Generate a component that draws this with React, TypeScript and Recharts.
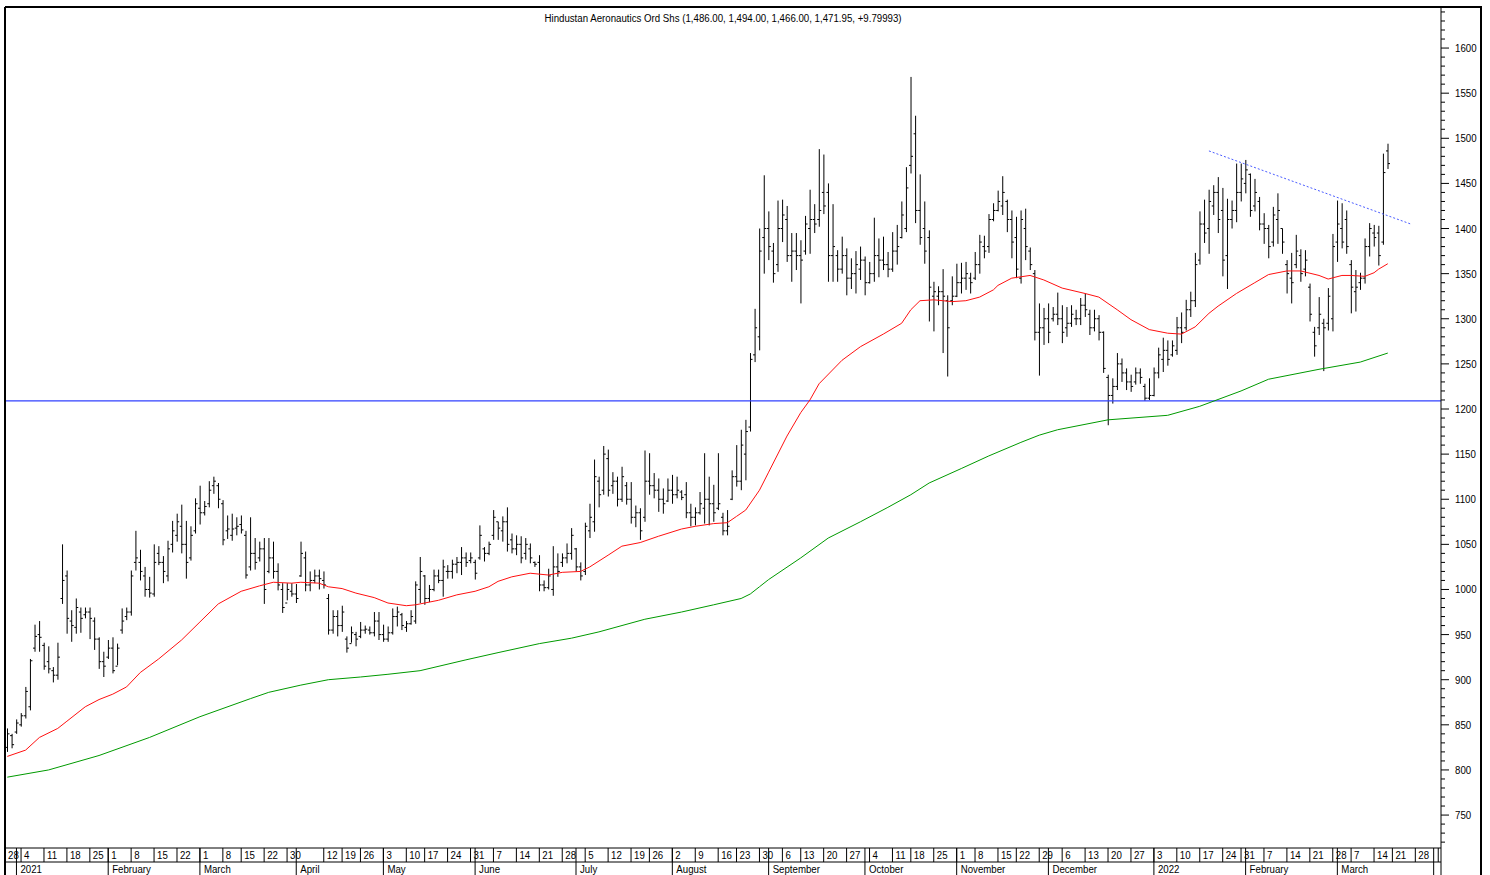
import { ComposedChart, Bar, Line, XAxis, YAxis, ReferenceLine } from "recharts";

// ---- data -----------------------------------------------------------------

const TITLE = "Hindustan Aeronautics Ord Shs (1,486.00, 1,494.00, 1,466.00, 1,471.95, +9.79993)";

// NSE weekday holidays in the displayed range (no bar on these days)
const HOLIDAYS = [
  "2021-01-26", "2021-03-11", "2021-03-29", "2021-04-02", "2021-04-14", "2021-04-21",
  "2021-05-13", "2021-07-21", "2021-08-19", "2021-09-10", "2021-10-15", "2021-11-05",
  "2021-11-19", "2022-01-26", "2022-03-01", "2022-03-18", "2022-04-14", "2022-04-15",
];
const CAL_START = "2020-12-28";
const FIRST_BAR = "2020-12-30";
const CAL_END = "2022-04-08";

const MONTH_NAMES = [
  "", "February", "March", "April", "May", "June", "July",
  "August", "September", "October", "November", "December",
];

// daily bars [open, high, low, close], one per trading day from 30 Dec 2020
const BARS: number[][] = [
  // Dec 2020 - Jan 2021
  [825, 846, 820, 840], [838, 840, 824, 828], [842, 856, 840, 852], [850, 863, 848, 860],
  [860, 892, 857, 887], [870, 923, 866, 921], [935, 961, 931, 948], [950, 965, 931, 947],
  [938, 941, 911, 915], [920, 937, 907, 912], [910, 914, 897, 905], [905, 941, 900, 925],
  [990, 1050, 984, 1010], [1015, 1021, 951, 968], [965, 977, 942, 960], [958, 990, 951, 980],
  [975, 980, 952, 968], [972, 980, 968, 975], [975, 980, 945, 968], [965, 969, 933, 945],
  [945, 947, 912, 920], [920, 931, 903, 915],
  // Feb
  [925, 944, 923, 935], [935, 947, 907, 910], [915, 940, 916, 935], [955, 979, 951, 965],
  [970, 980, 966, 975], [975, 1021, 971, 1015], [1030, 1065, 1021, 1035], [1030, 1044, 1010, 1020],
  [1015, 1025, 992, 1000], [1000, 1014, 991, 996], [995, 1050, 992, 1030], [1040, 1048, 1027, 1030],
  [1030, 1037, 1007, 1020], [1015, 1054, 1009, 1045], [1050, 1076, 1041, 1065], [1060, 1084, 1053, 1075],
  [1070, 1094, 1040, 1050], [1050, 1076, 1012, 1030], [1035, 1070, 1032, 1060], [1065, 1101, 1062, 1095],
  // Mar
  [1090, 1115, 1072, 1085], [1085, 1098, 1082, 1092], [1095, 1120, 1091, 1110], [1115, 1125, 1106, 1120],
  [1115, 1118, 1090, 1100], [1095, 1099, 1049, 1055], [1065, 1082, 1056, 1067], [1060, 1084, 1054, 1067],
  [1068, 1080, 1060, 1070], [1072, 1082, 1062, 1066], [1060, 1065, 1012, 1016], [1025, 1080, 1021, 1040],
  [1040, 1057, 1022, 1030], [1035, 1053, 1031, 1045], [1045, 1057, 984, 1000], [1020, 1057, 1018, 1035],
  [1035, 1053, 1012, 1020], [1020, 1029, 999, 1005], [1000, 1007, 974, 980], [985, 1007, 988, 1000],
  [998, 1007, 992, 995],
  // Apr
  [995, 1006, 985, 990], [1015, 1053, 1014, 1040], [1035, 1042, 998, 1005], [1005, 1020, 998, 1010],
  [1010, 1022, 1007, 1015], [1015, 1022, 1000, 1012], [1010, 1020, 1001, 1005], [990, 995, 950, 955],
  [955, 977, 951, 970], [970, 977, 948, 960], [960, 982, 953, 975], [945, 948, 930, 935],
  [940, 959, 941, 952], [950, 953, 937, 945], [948, 964, 946, 955], [955, 960, 951, 956],
  [955, 959, 950, 952], [952, 975, 948, 965],
  // May
  [965, 975, 944, 950], [950, 961, 942, 945], [945, 959, 942, 952], [952, 979, 950, 970],
  [970, 981, 959, 975], [972, 974, 955, 960], [958, 965, 953, 962], [962, 977, 961, 970],
  [965, 1009, 962, 1005], [1000, 1036, 985, 1020], [1015, 1016, 983, 990], [990, 1005, 986, 1000],
  [1000, 1022, 998, 1015], [1015, 1022, 1007, 1010], [1010, 1033, 992, 1025], [1020, 1027, 1012, 1020],
  [1020, 1033, 1012, 1028], [1028, 1036, 1018, 1030], [1030, 1047, 1016, 1035], [1035, 1041, 1025, 1030],
  // Jun
  [1032, 1041, 1029, 1035], [1030, 1033, 1011, 1018], [1035, 1071, 1033, 1060], [1045, 1047, 1031, 1040],
  [1040, 1053, 1038, 1050], [1060, 1088, 1055, 1080], [1075, 1075, 1055, 1068], [1065, 1081, 1053, 1075],
  [1075, 1091, 1042, 1050], [1055, 1062, 1040, 1045], [1045, 1060, 1038, 1050], [1050, 1059, 1029, 1035],
  [1040, 1057, 1033, 1050], [1045, 1051, 1029, 1035], [1030, 1031, 1025, 1028], [1030, 1038, 998, 1005],
  [1005, 1010, 998, 1002], [1002, 1023, 1000, 1015], [1000, 1048, 993, 1025], [1025, 1040, 1014, 1020],
  [1030, 1040, 1025, 1035], [1035, 1051, 1029, 1040],
  // Jul
  [1040, 1068, 1033, 1060], [1045, 1046, 1020, 1025], [1025, 1030, 1010, 1015], [1020, 1074, 1016, 1070],
  [1065, 1095, 1057, 1080], [1075, 1144, 1064, 1125], [1120, 1125, 1091, 1105], [1110, 1159, 1105, 1150],
  [1145, 1155, 1103, 1110], [1115, 1130, 1106, 1120], [1120, 1125, 1092, 1100], [1100, 1136, 1097, 1125],
  [1115, 1119, 1094, 1100], [1100, 1119, 1073, 1080], [1080, 1093, 1069, 1085], [1085, 1090, 1055, 1065],
  [1080, 1154, 1075, 1120], [1120, 1151, 1105, 1115], [1115, 1129, 1101, 1110], [1110, 1123, 1086, 1100],
  [1100, 1112, 1084, 1095],
  // Aug
  [1098, 1123, 1097, 1110], [1110, 1127, 1095, 1105], [1105, 1125, 1101, 1110], [1108, 1110, 1099, 1102],
  [1105, 1119, 1079, 1085], [1085, 1095, 1070, 1080], [1080, 1091, 1071, 1085], [1085, 1108, 1083, 1095],
  [1090, 1151, 1073, 1100], [1100, 1125, 1071, 1095], [1095, 1116, 1075, 1085], [1090, 1151, 1088, 1095],
  [1080, 1085, 1060, 1065], [1065, 1088, 1060, 1070], [1100, 1132, 1099, 1125], [1125, 1160, 1114, 1120],
  [1120, 1177, 1110, 1160], [1150, 1188, 1121, 1175], [1180, 1262, 1175, 1255], [1260, 1311, 1252, 1290],
  [1280, 1400, 1265, 1375], [1390, 1459, 1350, 1400],
  // Sep
  [1400, 1419, 1365, 1380], [1375, 1384, 1340, 1350], [1360, 1431, 1352, 1400], [1400, 1432, 1385, 1415],
  [1410, 1425, 1363, 1370], [1370, 1395, 1341, 1375], [1375, 1395, 1354, 1370], [1370, 1387, 1317, 1365],
  [1375, 1414, 1371, 1405], [1400, 1443, 1372, 1410], [1410, 1427, 1395, 1405], [1410, 1488, 1402, 1420],
  [1440, 1482, 1416, 1425], [1440, 1450, 1341, 1370], [1370, 1427, 1341, 1380], [1370, 1376, 1341, 1355],
  [1355, 1391, 1350, 1370], [1370, 1378, 1326, 1345], [1345, 1367, 1333, 1350], [1350, 1375, 1328, 1360],
  [1355, 1380, 1343, 1365],
  // Oct
  [1365, 1369, 1326, 1340], [1340, 1363, 1339, 1350], [1350, 1412, 1341, 1370], [1370, 1389, 1346, 1365],
  [1365, 1391, 1354, 1360], [1360, 1374, 1346, 1355], [1355, 1396, 1352, 1375], [1375, 1404, 1360, 1380],
  [1390, 1430, 1389, 1415], [1400, 1468, 1396, 1445], [1470, 1568, 1461, 1480], [1505, 1525, 1406, 1420],
  [1420, 1460, 1382, 1390], [1400, 1430, 1361, 1375], [1390, 1398, 1297, 1335], [1325, 1341, 1286, 1330],
  [1325, 1336, 1315, 1330], [1330, 1355, 1262, 1325], [1320, 1326, 1236, 1290], [1320, 1347, 1315, 1325],
  // Nov
  [1325, 1361, 1324, 1340], [1340, 1362, 1328, 1345], [1345, 1363, 1332, 1350], [1345, 1351, 1328, 1340],
  [1345, 1374, 1343, 1360], [1360, 1393, 1350, 1385], [1380, 1392, 1367, 1375], [1380, 1416, 1373, 1410],
  [1410, 1428, 1408, 1420], [1420, 1442, 1419, 1430], [1425, 1458, 1415, 1440], [1430, 1432, 1396, 1410],
  [1410, 1420, 1367, 1385], [1390, 1413, 1345, 1355], [1345, 1420, 1339, 1410], [1400, 1422, 1365, 1380],
  [1375, 1379, 1354, 1360], [1350, 1354, 1276, 1285], [1285, 1317, 1237, 1290],
  // Dec
  [1290, 1312, 1271, 1300], [1300, 1317, 1273, 1285], [1300, 1313, 1297, 1305], [1305, 1329, 1293, 1300],
  [1300, 1315, 1273, 1285], [1290, 1313, 1280, 1295], [1295, 1315, 1291, 1305], [1300, 1310, 1293, 1300],
  [1300, 1323, 1293, 1315], [1315, 1328, 1302, 1310], [1305, 1310, 1282, 1290], [1290, 1310, 1286, 1300],
  [1300, 1304, 1276, 1285], [1285, 1286, 1240, 1245], [1235, 1238, 1182, 1215], [1215, 1234, 1206, 1225],
  [1225, 1262, 1221, 1250], [1250, 1256, 1230, 1240], [1240, 1245, 1221, 1230], [1230, 1238, 1219, 1225],
  [1230, 1246, 1227, 1240], [1240, 1245, 1228, 1235], [1225, 1228, 1209, 1212],
  // Jan 2022
  [1212, 1234, 1210, 1215], [1215, 1246, 1214, 1240], [1240, 1268, 1234, 1260], [1255, 1279, 1241, 1265],
  [1265, 1276, 1248, 1255], [1260, 1276, 1258, 1270], [1265, 1302, 1260, 1290], [1290, 1307, 1273, 1285],
  [1290, 1321, 1287, 1310], [1310, 1330, 1302, 1320], [1320, 1373, 1313, 1360], [1365, 1419, 1360, 1405],
  [1405, 1432, 1384, 1395], [1400, 1443, 1372, 1430], [1425, 1448, 1415, 1440], [1440, 1457, 1395, 1410],
  [1420, 1445, 1347, 1365], [1370, 1433, 1333, 1410], [1410, 1431, 1400, 1420], [1420, 1472, 1407, 1440],
  // Feb
  [1440, 1472, 1430, 1455], [1450, 1476, 1439, 1465], [1460, 1461, 1413, 1420], [1425, 1455, 1419, 1440],
  [1430, 1435, 1398, 1405], [1405, 1417, 1383, 1400], [1400, 1404, 1367, 1380], [1385, 1424, 1380, 1415],
  [1410, 1439, 1383, 1420], [1400, 1400, 1372, 1385], [1360, 1365, 1328, 1350], [1345, 1373, 1317, 1340],
  [1360, 1393, 1356, 1375], [1370, 1377, 1341, 1350], [1355, 1376, 1347, 1365], [1335, 1339, 1297, 1305],
  [1285, 1291, 1258, 1270], [1290, 1324, 1282, 1305], [1295, 1300, 1242, 1290], [1295, 1334, 1287, 1325],
  // Mar
  [1300, 1394, 1286, 1380], [1385, 1431, 1363, 1405], [1400, 1428, 1378, 1385], [1410, 1420, 1372, 1380],
  [1360, 1365, 1306, 1335], [1330, 1354, 1308, 1335], [1340, 1351, 1332, 1345], [1345, 1389, 1339, 1380],
  [1380, 1406, 1369, 1400], [1395, 1404, 1380, 1390], [1395, 1403, 1359, 1370], [1385, 1483, 1382, 1462],
  [1486, 1494, 1466, 1471.95],
];

// moving averages, sampled [bar number, value]
const MA50_POINTS = [
  [0, 815], [4, 822], [7, 836], [11, 846], [13, 854], [17, 870], [20, 878], [23, 884], [26, 892],
  [29, 908], [33, 923], [38, 944], [42, 964], [46, 984], [51, 998], [55, 1004], [58, 1008],
  [62, 1007], [64, 1008], [68, 1007], [70, 1003], [73, 1001], [76, 996], [80, 991], [83, 985],
  [87, 982], [89, 983], [94, 988], [98, 994], [102, 998], [105, 1003], [107, 1009], [110, 1014],
  [114, 1018], [118, 1016], [121, 1019], [125, 1020], [127, 1025], [131, 1038], [134, 1048],
  [138, 1052], [142, 1059], [147, 1067], [150, 1070], [154, 1073], [157, 1074], [159, 1081],
  [161, 1088], [164, 1110], [166, 1130], [170, 1170], [173, 1196], [175, 1210], [177, 1228],
  [182, 1254], [186, 1269], [191, 1283], [195, 1295], [197, 1310], [199, 1320], [202, 1321],
  [206, 1319], [209, 1320], [212, 1324], [215, 1332], [216, 1337], [219, 1345], [223, 1348],
  [226, 1343], [230, 1334], [235, 1328], [238, 1324], [242, 1310], [245, 1299], [249, 1288],
  [253, 1284], [256, 1283], [259, 1291], [262, 1306], [264, 1314], [268, 1328], [272, 1340],
  [275, 1349], [279, 1353], [282, 1353], [286, 1348], [288, 1344], [291, 1348], [293, 1348],
  [296, 1347], [298, 1351], [299, 1355], [301, 1361],
];
const MA200_POINTS = [
  [0, 792], [9, 800], [20, 816], [31, 836], [42, 859], [53, 879], [57, 886], [64, 894], [70, 900],
  [77, 903], [83, 906], [90, 910], [100, 922], [107, 930], [116, 940], [123, 946], [129, 953],
  [139, 967], [147, 975], [154, 983], [160, 990], [162, 995], [164, 1003], [166, 1011], [173, 1035],
  [179, 1057], [186, 1075], [192, 1091], [197, 1105], [201, 1118], [208, 1134], [214, 1148],
  [221, 1163], [225, 1171], [229, 1177], [240, 1188], [253, 1193], [260, 1203], [269, 1220],
  [275, 1233], [286, 1244], [295, 1252], [301, 1262],
];

const SUPPORT_LEVEL = 1209;
const TRENDLINE = [
  { bar: 262, price: 1486 },
  { bar: 306, price: 1405 },
];

// ---- layout ---------------------------------------------------------------

const W = 1490;
const H = 875;
const PLOT_LEFT = 5;
const PLOT_TOP = 7;
const AXIS_W = 49;
const DAY_ROW = 14;
const MONTH_ROW = 13;
const PLOT_BOTTOM = H - DAY_ROW - MONTH_ROW;
const PLOT_RIGHT = W - AXIS_W;
const X_MIN = -0.5;
const X_MAX = 312.6;
const LAST_LABEL = 309; // labels past this would run into the price axis
const FONT = "'Liberation Sans', Arial, sans-serif";
const NARROW = 0.88;

// ---- calendar -------------------------------------------------------------

const dayKey = (d: Date) => d.toISOString().slice(0, 10);

const tradingDays = (() => {
  const out: Date[] = [];
  const d = new Date(CAL_START + "T00:00:00Z");
  const end = new Date(CAL_END + "T00:00:00Z");
  while (d <= end) {
    const wd = d.getUTCDay();
    if (wd !== 0 && wd !== 6 && !HOLIDAYS.includes(dayKey(d))) out.push(new Date(d));
    d.setUTCDate(d.getUTCDate() + 1);
  }
  const first = out.findIndex((x) => dayKey(x) === FIRST_BAR);
  return out.map((date, k) => ({ date, i: k - first }));
})();

const weekLabels = new Map<number, string>();
const monthLabels = new Map<number, string>();
(() => {
  let lastWeek = "";
  let lastMonth = -1;
  let lastShown = -Infinity;
  tradingDays.forEach(({ date, i }, k) => {
    const monday = new Date(date);
    monday.setUTCDate(monday.getUTCDate() - ((date.getUTCDay() + 6) % 7));
    const wk = dayKey(monday);
    if (wk !== lastWeek) {
      lastWeek = wk;
      if (i - lastShown >= 4 && i <= X_MAX) {
        weekLabels.set(Math.max(i, X_MIN), String(date.getUTCDate()));
        lastShown = i;
      }
    }
    const m = date.getUTCMonth();
    if (k > 0 && m !== lastMonth && i >= X_MIN && i <= X_MAX) {
      monthLabels.set(i, m === 0 ? String(date.getUTCFullYear()) : MONTH_NAMES[m]);
    }
    lastMonth = m;
  });
})();

const xTicks = Array.from(new Set([...weekLabels.keys(), ...monthLabels.keys()])).sort((a, b) => a - b);

const yTicks: number[] = [];
for (let v = 720; v <= 1640; v += 10) yTicks.push(v);

const ma50 = new Map(MA50_POINTS.map(([i, v]) => [i, v]));
const ma200 = new Map(MA200_POINTS.map(([i, v]) => [i, v]));

const rows = BARS.map(([o, h, l, c], i) => ({
  i,
  o,
  h,
  l,
  c,
  range: [l, h],
  ma50: ma50.get(i) ?? null,
  ma200: ma200.get(i) ?? null,
}));

// ---- renderers ------------------------------------------------------------

const NarrowText = ({ x, y, anchor, children }: any) => (
  <text
    transform={`translate(${x},${y}) scale(${NARROW},1)`}
    fontSize={11}
    fontFamily={FONT}
    textAnchor={anchor || "start"}
    fill="#000"
  >
    {children}
  </text>
);

const OhlcBar = (props: any) => {
  const { x, y, width, height, payload } = props;
  if (x == null || y == null) return null;
  const cx = x + width / 2;
  const top = Math.min(y, y + height);
  const bottom = Math.max(y, y + height);
  const span = payload.h - payload.l;
  const at = (v: number) => (span ? top + ((payload.h - v) / span) * (bottom - top) : top);
  return (
    <g>
      <line x1={cx} x2={cx} y1={top} y2={bottom} stroke="#000" strokeWidth={1} />
      <line x1={cx - 2} x2={cx} y1={at(payload.o)} y2={at(payload.o)} stroke="#000" strokeWidth={1} />
      <line x1={cx} x2={cx + 2} y1={at(payload.c)} y2={at(payload.c)} stroke="#000" strokeWidth={1} />
    </g>
  );
};

const DateTick = (props: any) => {
  const { x, payload } = props;
  const v = payload.value;
  const week = weekLabels.get(v);
  const month = monthLabels.get(v);
  const clamped = v === X_MIN;
  const showText = v <= LAST_LABEL;
  return (
    <g>
      {week !== undefined && !clamped && (
        <line x1={x} x2={x} y1={PLOT_BOTTOM} y2={PLOT_BOTTOM + DAY_ROW} stroke="#000" />
      )}
      {week !== undefined && showText && (
        <NarrowText x={x + 3} y={PLOT_BOTTOM + 11}>
          {week}
        </NarrowText>
      )}
      {month !== undefined && (
        <>
          <line x1={x} x2={x} y1={PLOT_BOTTOM} y2={H} stroke="#000" />
          {showText && (
            <NarrowText x={x + 4} y={H - 2}>
              {month}
            </NarrowText>
          )}
        </>
      )}
    </g>
  );
};

const PriceTick = (props: any) => {
  const { x, y, payload } = props;
  const v = payload.value;
  const major = v % 50 === 0;
  return (
    <g>
      <line x1={x} x2={x + (major ? 8 : 4)} y1={y} y2={y} stroke="#000" />
      {major && v >= 750 && v <= 1600 && (
        <NarrowText x={x + 14} y={y + 4}>
          {v}
        </NarrowText>
      )}
    </g>
  );
};

export default function App() {
  return (
    <div style={{ position: "absolute", left: 0, top: 0, width: W, height: H, background: "#fff" }}>
      <ComposedChart
        width={W}
        height={H}
        data={rows}
        margin={{ top: PLOT_TOP, right: 0, bottom: 0, left: PLOT_LEFT }}
      >
        <XAxis
          dataKey="i"
          type="number"
          domain={[X_MIN, X_MAX]}
          allowDataOverflow
          ticks={xTicks}
          interval={0}
          tick={<DateTick />}
          tickLine={false}
          tickSize={0}
          tickMargin={0}
          height={DAY_ROW + MONTH_ROW}
          axisLine={{ stroke: "#000" }}
        />
        <YAxis
          orientation="right"
          type="number"
          domain={[713.5, 1645.5]}
          allowDataOverflow
          ticks={yTicks}
          interval={0}
          tick={<PriceTick />}
          tickLine={false}
          tickSize={0}
          tickMargin={0}
          width={AXIS_W}
          axisLine={{ stroke: "#000" }}
        />
        <ReferenceLine y={SUPPORT_LEVEL} stroke="#3040ff" strokeWidth={1.2} />
        <ReferenceLine
          segment={[
            { x: TRENDLINE[0].bar, y: TRENDLINE[0].price },
            { x: TRENDLINE[1].bar, y: TRENDLINE[1].price },
          ]}
          stroke="#4a5cff"
          strokeDasharray="2 2"
        />
        <Line
          dataKey="ma200"
          stroke="#009a00"
          strokeWidth={1}
          dot={false}
          connectNulls
          isAnimationActive={false}
        />
        <Line
          dataKey="ma50"
          stroke="#ff1010"
          strokeWidth={1}
          dot={false}
          connectNulls
          isAnimationActive={false}
        />
        <Bar dataKey="range" barSize={3} shape={<OhlcBar />} isAnimationActive={false} />
      </ComposedChart>
      <svg
        width={W}
        height={H}
        style={{ position: "absolute", left: 0, top: 0, pointerEvents: "none" }}
      >
        <line x1={PLOT_LEFT} x2={W - 8} y1={PLOT_TOP} y2={PLOT_TOP} stroke="#000" strokeWidth={2} />
        <line x1={PLOT_LEFT} x2={PLOT_LEFT} y1={PLOT_TOP} y2={H} stroke="#000" strokeWidth={2} />
        <line x1={W - 9} x2={W - 9} y1={PLOT_TOP} y2={H} stroke="#000" strokeWidth={2} />
        <line x1={PLOT_RIGHT} x2={PLOT_RIGHT} y1={PLOT_BOTTOM} y2={H} stroke="#000" />
        <line x1={PLOT_LEFT} x2={PLOT_RIGHT} y1={PLOT_BOTTOM + DAY_ROW} y2={PLOT_BOTTOM + DAY_ROW} stroke="#000" />
        <NarrowText x={723} y={22} anchor="middle">
          {TITLE}
        </NarrowText>
      </svg>
    </div>
  );
}
